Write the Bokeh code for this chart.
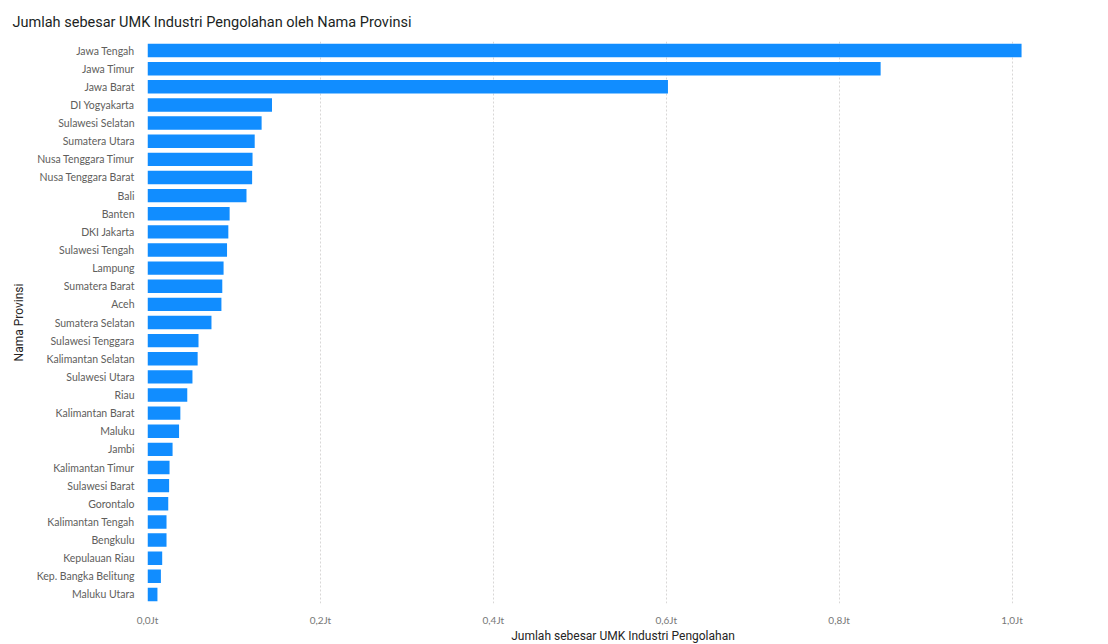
from bokeh.plotting import figure
from bokeh.models import FactorRange, FixedTicker, Range1d
from bokeh.embed import file_html
from bokeh.resources import INLINE

provinces = ["Jawa Tengah", "Jawa Timur", "Jawa Barat", "DI Yogyakarta", "Sulawesi Selatan",
             "Sumatera Utara", "Nusa Tenggara Timur", "Nusa Tenggara Barat", "Bali", "Banten",
             "DKI Jakarta", "Sulawesi Tengah", "Lampung", "Sumatera Barat", "Aceh",
             "Sumatera Selatan", "Sulawesi Tenggara", "Kalimantan Selatan", "Sulawesi Utara", "Riau",
             "Kalimantan Barat", "Maluku", "Jambi", "Kalimantan Timur", "Sulawesi Barat",
             "Gorontalo", "Kalimantan Tengah", "Bengkulu", "Kepulauan Riau", "Kep. Bangka Belitung",
             "Maluku Utara"]
values = [1011000, 848000, 602000, 144000, 132000,
          124000, 121500, 121000, 114500, 95000,
          93500, 92000, 88000, 86500, 85500,
          74000, 59000, 58000, 52000, 46000,
          38000, 36500, 29000, 25500, 25000,
          24000, 22000, 22000, 17000, 15500,
          11500]
tick_values = [0, 200000, 400000, 600000, 800000, 1000000]
tick_labels = ["0,0Jt", "0,2Jt", "0,4Jt", "0,6Jt", "0,8Jt", "1,0Jt"]

p = figure(
    y_range=FactorRange(factors=list(reversed(provinces)), range_padding=0),
    x_range=Range1d(0, 1100000),
    frame_width=951, frame_height=562,
    min_border_left=147, min_border_right=10, min_border_top=41, min_border_bottom=41,
    output_backend="svg", toolbar_location=None,
    title="Jumlah sebesar UMK Industri Pengolahan oleh Nama Provinsi",
)
p.hbar(y=provinces, right=values, height=0.74, color="#118DFF", line_color=None)

p.title.text_font = "Roboto"
p.title.text_font_size = "14.5px"
p.title.text_font_style = "normal"
p.title.text_color = "#201F1E"
p.title.align = "left"
p.title.offset = -135
p.title.standoff = 21

p.outline_line_color = None
p.background_fill_color = "white"
p.border_fill_color = "white"

p.ygrid.grid_line_color = None
p.xgrid.ticker = FixedTicker(ticks=tick_values)
p.xgrid.grid_line_color = "#C8C6C4"
p.xgrid.grid_line_dash = "2 2"
p.xgrid.grid_line_alpha = 0.7

xa = p.xaxis[0]
xa.ticker = FixedTicker(ticks=tick_values)
xa.major_label_overrides = dict(zip(tick_values, tick_labels))
xa.axis_line_color = None
xa.major_tick_line_color = None
xa.minor_tick_line_color = None
xa.major_label_text_font = "Lato"
xa.major_label_text_font_size = "10px"
xa.major_label_text_color = "#777777"
xa.major_label_standoff = 4
xa.axis_label = "Jumlah sebesar UMK Industri Pengolahan"
xa.axis_label_text_font = "Roboto"
xa.axis_label_text_font_size = "12px"
xa.axis_label_text_font_style = "normal"
xa.axis_label_text_color = "#252423"
xa.axis_label_standoff = 0

ya = p.yaxis[0]
ya.axis_line_color = None
ya.major_tick_line_color = None
ya.minor_tick_line_color = None
ya.major_label_text_font = "Lato"
ya.major_label_text_font_size = "10.5px"
ya.major_label_text_color = "#605E5C"
ya.major_label_standoff = 7
ya.axis_label = "Nama Provinsi"
ya.axis_label_text_font = "Roboto"
ya.axis_label_text_font_size = "12px"
ya.axis_label_text_font_style = "normal"
ya.axis_label_text_color = "#252423"
ya.axis_label_standoff = 8

open("out.html", "w").write(file_html(p, INLINE))
